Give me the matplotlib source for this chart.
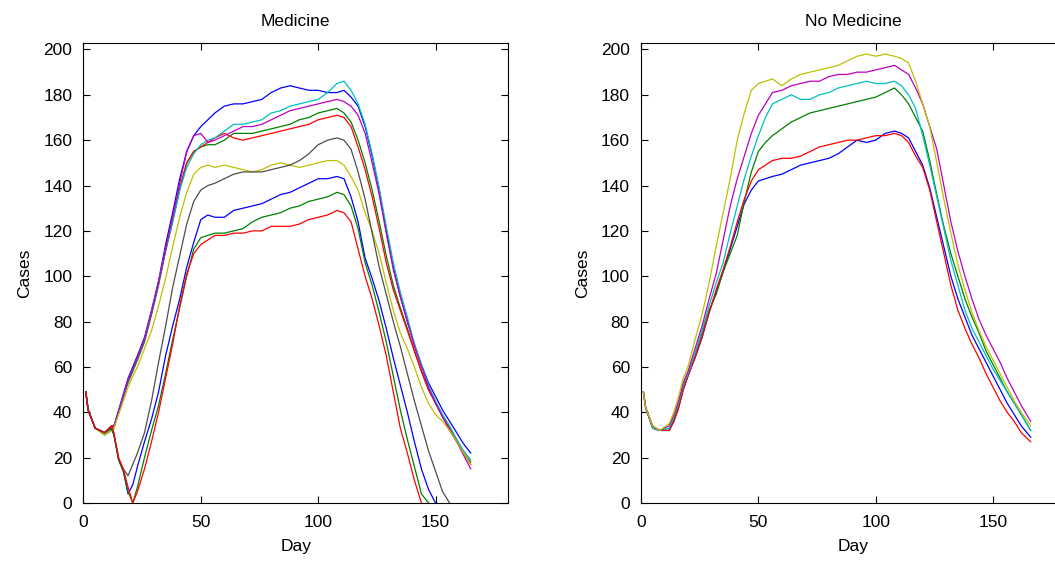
import numpy as np
import matplotlib
matplotlib.use('Agg')
import matplotlib.pyplot as plt

nan = np.nan

# days sampled for each panel
days_med = [1, 2, 5, 9, 12, 13, 15, 17, 19, 21, 23, 26, 29, 32, 35, 38, 41, 44, 47, 50,
            53, 56, 60, 64, 68, 72, 76, 80, 84, 88, 92, 96, 100, 104, 108, 111, 114, 117,
            120, 123, 126, 129, 132, 135, 138, 141, 144, 147, 150, 153, 156, 159, 162, 165]
days_nomed = [1, 2, 5, 8, 12, 14, 16, 18, 20, 23, 26, 29, 32, 35, 38, 41, 44, 47, 50, 53,
              56, 60, 64, 68, 72, 76, 80, 84, 88, 92, 96, 100, 104, 108, 111, 114, 117, 120,
              123, 126, 129, 132, 135, 138, 141, 144, 147, 150, 153, 156, 159, 162, 166]

# ---- Medicine runs (plot order b, g, r, c, m, y, k, b, g, r)
med_b1 = [49, 41, 33, 31, 34,  34, 41, 48, 55, 60,  65, 73, 85, 98, 114,
          128, 143, 155, 162, 166,  169, 172, 175, 176, 176,  177, 178, 181, 183, 184,
          183, 182, 182, 181, 181,  182, 179, 175, 166, 153,  138, 120, 104, 91, 80,
          70, 61, 53, 47, 41,  36, 31, 26, 22]
med_g1 = [49, 41, 33, 30, 32,  33, 40, 47, 53, 58,  63, 71, 83, 96, 111,
          124, 138, 150, 155, 157,  158, 158, 160, 163, 163,  163, 164, 165, 166, 167,
          169, 170, 172, 173, 174,  172, 168, 160, 150, 138,  124, 109, 96, 86, 77,
          67, 58, 50, 44, 38,  33, 28, 22, 18]
med_r1 = [49, 41, 33, 31, 34,  34, 40, 47, 54, 59,  64, 72, 84, 97, 112,
          125, 139, 150, 155, 157,  159, 161, 163, 161, 160,  161, 162, 163, 164, 165,
          166, 167, 169, 170, 171,  170, 166, 157, 147, 135,  121, 106, 94, 85, 76,
          67, 58, 50, 44, 38,  33, 27, 22, 17]
med_c = [49, 41, 33, 31, 33,  34, 40, 47, 54, 59,  64, 72, 84, 97, 112,
         124, 138, 148, 154, 158,  160, 161, 164, 167, 167,  168, 169, 172, 173, 175,
         176, 177, 178, 181, 185,  186, 182, 176, 167, 154,  139, 122, 106, 93, 82,
         70, 61, 52, 45, 39,  34, 28, 23, 19]
med_m = [49, 41, 33, 31, 33,  34, 40, 47, 54, 59,  64, 72, 84, 97, 112,
         126, 141, 155, 162, 163,  159, 160, 162, 164, 166,  166, 167, 169, 171, 173,
         174, 175, 176, 177, 178,  177, 175, 171, 163, 150,  136, 119, 103, 91, 80,
         69, 60, 51, 44, 38,  32, 27, 21, 15]
med_y = [49, 41, 33, 30, 32,  33, 39, 45, 51, 56,  60, 68, 76, 87, 99,
         113, 126, 137, 145, 148,  149, 148, 149, 148, 147,  146, 147, 149, 150, 149,
         148, 149, 150, 151, 151,  149, 144, 138, 128, 120,  110, 97, 85, 75, 68,
         60, 51, 44, 39, 36,  32, 27, 22, 17]
med_k = [49, 41, 33, 31, 33,  30, 19, 15, 12, 17,  22, 31, 45, 62, 78,
         95, 109, 123, 133, 138,  140, 141, 143, 145, 146,  146, 146, 147, 148, 149,
         151, 154, 158, 160, 161,  160, 156, 146, 134, 119,  104, 92, 80, 69, 57,
         45, 34, 23, 14, 5,  0, nan, nan, nan]
med_b2 = [49, 41, 33, 31, 33,  30, 19, 14, 4, 8,  16, 27, 37, 49, 65,
          78, 90, 104, 115, 125,  127, 126, 126, 129, 130,  131, 132, 134, 136, 137,
          139, 141, 143, 143, 144,  143, 135, 124, 108, 99,  89, 77, 64, 52, 40,
          27, 15, 6, 0, nan,  nan, nan, nan, nan]
med_g2 = [49, 41, 33, 31, 33,  30, 19, 14, 5, 0,  7, 20, 32, 43, 57,
          72, 86, 100, 112, 117,  118, 119, 119, 120, 121,  124, 126, 127, 128, 130,
          131, 133, 134, 135, 137,  136, 131, 121, 106, 96,  84, 71, 56, 41, 28,
          16, 4, 0, nan, nan,  nan, nan, nan, nan]
med_r2 = [49, 41, 33, 31, 34,  31, 20, 15, 7, 0,  5, 15, 27, 40, 55,
          70, 87, 101, 110, 114,  116, 118, 118, 119, 119,  120, 120, 122, 122, 122,
          123, 125, 126, 127, 129,  128, 124, 112, 100, 90,  78, 65, 49, 33, 22,
          10, 0, nan, nan, nan,  nan, nan, nan, nan]

# ---- No Medicine runs (plot order b, g, r, c, m, y)
nm_b = [49, 42, 33, 32, 32,  36, 42, 50, 56, 64,  73, 84, 93, 102, 112,
        122, 132, 138, 142, 143,  144, 145, 147, 149, 150,  151, 152, 154, 157, 160,
        159, 160, 163, 164, 163,  161, 155, 149, 139, 126,  113, 100, 90, 82, 74,
        68, 62, 56, 50, 44,  39, 34, 29]
nm_g = [49, 42, 33, 32, 32,  37, 43, 51, 56, 65,  75, 85, 92, 102, 110,
        118, 133, 146, 155, 159,  162, 165, 168, 170, 172,  173, 174, 175, 176, 177,
        178, 179, 181, 183, 180,  176, 170, 164, 151, 136,  122, 110, 100, 90, 82,
        75, 67, 61, 55, 49,  44, 39, 32]
nm_r = [49, 42, 33, 32, 32,  36, 42, 50, 56, 64,  73, 84, 94, 103, 113,
        124, 134, 142, 147, 149,  151, 152, 152, 153, 155,  157, 158, 159, 160, 160,
        161, 162, 162, 163, 162,  159, 153, 148, 138, 124,  110, 96, 85, 77, 70,
        64, 57, 51, 45, 40,  36, 31, 27]
nm_c = [49, 42, 33, 32, 33,  38, 44, 52, 57, 66,  76, 87, 97, 106, 119,
        131, 143, 153, 162, 170,  176, 178, 180, 178, 178,  180, 181, 183, 184, 185,
        186, 185, 185, 186, 184,  180, 174, 162, 149, 135,  121, 107, 96, 85, 77,
        71, 65, 59, 54, 49,  44, 39, 32]
nm_m = [49, 42, 34, 32, 34,  39, 45, 53, 58, 68,  78, 90, 101, 116, 131,
        143, 153, 163, 171, 176,  181, 182, 184, 185, 186,  186, 188, 189, 189, 190,
        190, 191, 192, 193, 191,  189, 183, 176, 166, 156,  140, 124, 111, 100, 90,
        81, 74, 68, 62, 55,  49, 43, 36]
nm_y = [49, 42, 34, 32, 35,  40, 47, 55, 60, 72,  83, 97, 113, 128, 143,
        160, 172, 182, 185, 186,  187, 184, 187, 189, 190,  191, 192, 193, 195, 197,
        198, 197, 198, 197, 196,  194, 186, 176, 166, 150,  134, 119, 105, 94, 84,
        76, 69, 63, 57, 51,  45, 40, 34]

# matlab's old colour order
B = (0, 0, 1)
G = (0, 0.5, 0)
R = (1, 0, 0)
C = (0, 0.75, 0.75)
M = (0.75, 0, 0.75)
Y = (0.75, 0.75, 0)
K = (0.3, 0.3, 0.3)

med_runs = [(med_b1, B), (med_g1, G), (med_r1, R), (med_c, C), (med_m, M),
            (med_y, Y), (med_k, K), (med_b2, B), (med_g2, G), (med_r2, R)]
nomed_runs = [(nm_b, B), (nm_g, G), (nm_r, R), (nm_c, C), (nm_m, M), (nm_y, Y)]

plt.rcParams['font.family'] = ['Liberation Sans', 'DejaVu Sans']
plt.rcParams['font.size'] = 12.5

fig = plt.figure(figsize=(10.55, 5.63), dpi=100)
ax1 = fig.add_axes([0.0791, 0.1066, 0.4027, 0.8176])
ax2 = fig.add_axes([0.6076, 0.1066, 0.4027, 0.8176])


def setup(ax, title):
    ax.set_xlim(0, 181)
    ax.set_ylim(0, 203)
    ax.set_xticks([0, 50, 100, 150])
    ax.set_yticks(range(0, 201, 20))
    ax.tick_params(direction='in', top=True, right=True, length=5, width=0.8)
    ax.tick_params(axis='y', pad=8)
    ax.tick_params(axis='x', pad=9)
    for s in ax.spines.values():
        s.set_linewidth(0.8)
    ax.set_title(title, pad=12, fontsize=12.5)
    ax.set_xlabel('Day', labelpad=6)
    ax.set_ylabel('Cases', labelpad=8)


for vals, col in med_runs:
    ax1.plot(days_med, vals, color=col, lw=0.9)
setup(ax1, 'Medicine')

for vals, col in nomed_runs:
    ax2.plot(days_nomed, vals, color=col, lw=0.9)
setup(ax2, 'No Medicine')

fig.savefig('out.png', dpi=100)
